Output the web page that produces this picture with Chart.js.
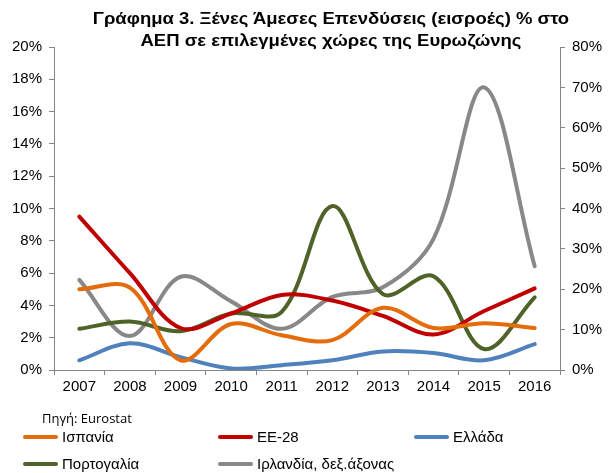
<!DOCTYPE html>
<html>
<head>
<meta charset="utf-8">
<script src="https://cdn.jsdelivr.net/npm/chart.js@4.4.1/dist/chart.umd.min.js"></script>
<style>
  body { margin: 0; background: #fff; }
  #wrap { position: relative; width: 609px; height: 473px; font-family: "Liberation Sans", Arial, sans-serif; }
  #title { position: absolute; left: 31px; width: 600px; top: 7px; text-align: center; font-weight: bold; font-size: 16.5px; line-height: 22px; color: #000; transform: scaleX(1.12); transform-origin: 300px 0; }
  #source { position: absolute; left: 42px; top: 409px; font-family: "Open Sans", sans-serif; font-size: 13px; line-height: 18px; color: #000; }
  .item { position: absolute; font-size: 15px; color: #000; height: 20px; line-height: 20px; white-space: nowrap; }
  .item span { display: inline-block; width: 35px; height: 4px; border-radius: 2px; vertical-align: middle; margin-right: 4px; position: relative; top: -1px; }
</style>
</head>
<body>
<div id="wrap">
  <canvas id="myChart" width="609" height="473"></canvas>
  <div id="title">Γράφημα 3. Ξένες Άμεσες Επενδύσεις (εισροές) % στο<br>ΑΕΠ σε επιλεγμένες χώρες της Ευρωζώνης</div>
  <div id="source">Πηγή: Eurostat</div>
  <div id="legend"></div>
</div>
<script>
// ΔΕΔΟΜΕΝΑ
var years = ['2007', '2008', '2009', '2010', '2011', '2012', '2013', '2014', '2015', '2016']
var spain = [5.0, 5.1, 0.6, 2.85, 2.15, 1.85, 3.85, 2.6, 2.9, 2.6]
var eu28 = [9.5, 6.0, 2.6, 3.5, 4.65, 4.3, 3.35, 2.2, 3.65, 5.05]
var greece = [0.6, 1.65, 0.8, 0.1, 0.3, 0.6, 1.15, 1.05, 0.6, 1.6]
var portugal = [2.55, 3.0, 2.4, 3.5, 3.6, 10.15, 4.7, 5.8, 1.3, 4.5]
var ireland = [22.3, 8.4, 23.1, 17.0, 10.2, 18.1, 20.5, 32.5, 70.0, 25.7] // δεξιός άξονας
var leftTicks = [0, 2, 4, 6, 8, 10, 12, 14, 16, 18, 20]
var rightTicks = [0, 10, 20, 30, 40, 50, 60, 70, 80]

var series = [
  { label: 'Ισπανία', data: spain, color: '#E46C0A', axis: 'y' },
  { label: 'ΕΕ-28', data: eu28, color: '#C00000', axis: 'y' },
  { label: 'Ελλάδα', data: greece, color: '#4F81BD', axis: 'y' },
  { label: 'Πορτογαλία', data: portugal, color: '#4F6228', axis: 'y' },
  { label: 'Ιρλανδία, δεξ.άξονας', data: ireland, color: '#888888', axis: 'y1' }
]

var axisColor = '#868686'
var tickFont = { family: '"Liberation Sans", Arial, sans-serif', size: 15 }

var ctx = document.getElementById('myChart').getContext('2d')
var chart = new Chart(ctx, {
  type: 'line',
  data: {
    labels: years,
    datasets: series.map(function (s) {
      return {
        label: s.label,
        data: s.data,
        yAxisID: s.axis,
        borderColor: s.color,
        backgroundColor: s.color,
        borderWidth: 4,
        pointRadius: 0,
        tension: 0.35,
        fill: false,
        borderCapStyle: 'round'
      }
    })
  },
  options: {
    responsive: false,
    animation: false,
    layout: { padding: { top: 47, bottom: 0, left: 0, right: 0 } },
    plugins: { legend: { display: false }, title: { display: false }, tooltip: { enabled: false } },
    scales: {
      x: {
        offset: true,
        grid: { drawOnChartArea: false, color: axisColor, tickLength: 5, offset: true },
        border: { color: axisColor, width: 1 },
        ticks: { color: '#000', font: tickFont, padding: 3, maxRotation: 0 },
        afterFit: function (scale) { scale.height = 103 }
      },
      y: {
        position: 'left',
        min: 0, max: 20,
        afterBuildTicks: function (scale) { scale.ticks = leftTicks.map(function (v) { return { value: v } }) },
        grid: { drawOnChartArea: false, color: axisColor, tickLength: 5 },
        border: { color: axisColor, width: 1 },
        ticks: { color: '#000', font: tickFont, padding: 7, callback: function (v) { return v + '%' } },
        afterFit: function (scale) { scale.width = 54 }
      },
      y1: {
        position: 'right',
        min: 0, max: 80,
        afterBuildTicks: function (scale) { scale.ticks = rightTicks.map(function (v) { return { value: v } }) },
        grid: { drawOnChartArea: false, color: axisColor, tickLength: 5 },
        border: { color: axisColor, width: 1 },
        ticks: { color: '#000', font: tickFont, padding: 7, callback: function (v) { return v + '%' } },
        afterFit: function (scale) { scale.width = 49 }
      }
    }
  }
})

// ΥΠΟΜΝΗΜΑ
var legendPos = [[23, 427], [218, 427], [414, 427], [23, 454], [218, 454]]
var legend = document.getElementById('legend')
series.forEach(function (s, i) {
  var d = document.createElement('div')
  d.className = 'item'
  d.style.left = legendPos[i][0] + 'px'
  d.style.top = legendPos[i][1] + 'px'
  d.innerHTML = '<span style="background:' + s.color + '"></span>' + s.label
  legend.appendChild(d)
})
</script>
</body>
</html>
